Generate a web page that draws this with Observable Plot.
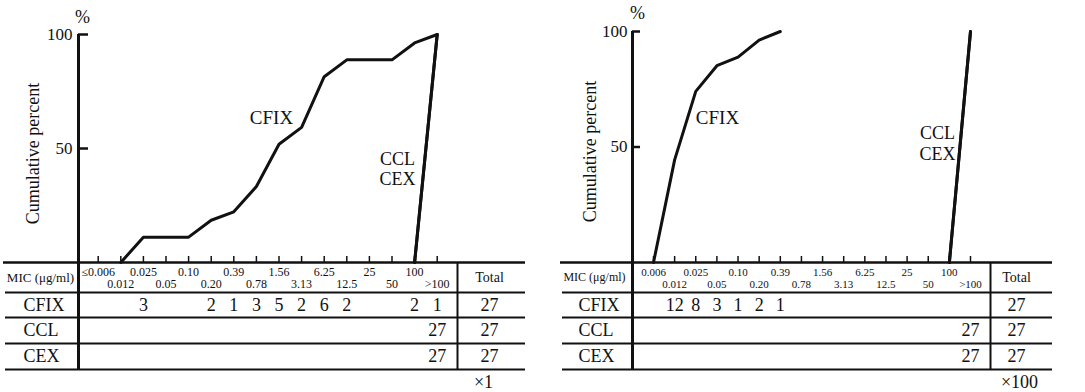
<!DOCTYPE html>
<html><head><meta charset="utf-8">
<script src="https://cdn.jsdelivr.net/npm/d3@7"></script>
<script src="https://cdn.jsdelivr.net/npm/@observablehq/plot@0.6"></script>
<style>
html,body{margin:0;padding:0;background:#fff;}
#wrap{position:relative;width:1085px;height:392px;overflow:hidden;background:#fff;}
#wrap svg{position:absolute;top:0;font-family:"Liberation Serif","Times New Roman",serif !important;}
#wrap svg text{font-family:"Liberation Serif","Times New Roman",serif !important;}
</style></head><body><div id="wrap"></div>
<script>
// ---- data ----
const micLeft = ["≤0.006","0.012","0.025","0.05","0.10","0.20","0.39","0.78","1.56","3.13","6.25","12.5","25","50","100",">100"];
const micRight = ["0.006","0.012","0.025","0.05","0.10","0.20","0.39","0.78","1.56","3.13","6.25","12.5","25","50","100",">100"];
const drugs = ["CFIX","CCL","CEX"];
const cfixLeft  = [0,0,3,0,0,2,1,3,5,2,6,2,0,0,2,1];
const cclLeft   = [0,0,0,0,0,0,0,0,0,0,0,0,0,0,0,27];
const cexLeft   = [0,0,0,0,0,0,0,0,0,0,0,0,0,0,0,27];
const cfixRight = [0,12,8,3,1,2,1,0,0,0,0,0,0,0,0,0];
const cclRight  = [0,0,0,0,0,0,0,0,0,0,0,0,0,0,0,27];
const cexRight  = [0,0,0,0,0,0,0,0,0,0,0,0,0,0,0,27];
const totalsLeft = [27,27,27];
const totalsRight = [27,27,27];
const yTicks = [50,100];
const notes = ["×1","×100"];

const FONT = "Liberation Serif";

function cumulative(counts, drug){
  const total = d3.sum(counts);
  const first = counts.findIndex(n => n > 0);
  const start = Math.max(first - 1, 0);
  let cum = 0; const pts = [];
  for (let i = 0; i < counts.length; i++){
    cum += counts[i];
    if (i >= start) pts.push({i, pct: cum / total * 100, drug});
    if (cum >= total) break;
  }
  return pts;
}

function panel(cfg){
  const L = cfg.L, ox = cfg.ox;
  const X = px => (px - L.x0) / (L.x15 - L.x0) * 15;
  const Y = py => (L.y0 - py) / (L.y0 - L.y100) * 100;
  const rowY = [305, 330, 356];
  const lines = cfg.series.flatMap((c, r) => cumulative(c, drugs[r]));
  const T = {fill: "#111", fontFamily: FONT};
  const marks = [];
  marks.push(Plot.ruleY([262], {y: d => Y(d), x1: () => X(L.tableL), x2: () => X(L.tableR), stroke: "#111", strokeWidth: 2.5}));
  marks.push(Plot.ruleY([292, 317, 343, 369], {y: d => Y(d), x1: () => X(L.tableL + 2), x2: () => X(L.tableR), stroke: "#111", strokeWidth: 2}));
  marks.push(Plot.ruleX([L.axisX], {x: d => X(d), y1: () => 100, y2: () => Y(369), stroke: "#111", strokeWidth: 3}));
  marks.push(Plot.ruleX([L.sepX], {x: d => X(d), y1: () => Y(262), y2: () => Y(369), stroke: "#111", strokeWidth: 2}));
  marks.push(Plot.ruleY(yTicks, {y: d => d, x1: () => X(L.axisX), x2: () => X(L.axisX + L.ytl), stroke: "#111", strokeWidth: 2.5}));
  marks.push(Plot.text(yTicks, {...T, x: () => X(L.yLabX), y: d => d, text: d => String(d), textAnchor: "end", fontSize: 17}));
  marks.push(Plot.text(["%"], {...T, x: () => X(L.pctX), y: () => Y(L.pctY), text: d => d, fontSize: 18}));
  marks.push(Plot.text(["Cumulative percent"], {...T, x: () => X(L.cumX), y: () => Y(L.cumY), text: d => d, rotate: -90, fontSize: 18}));
  marks.push(Plot.ruleX(d3.range(16), {x: d => d, y1: () => 0, y2: () => Y(256), stroke: "#111", strokeWidth: 1.5}));
  marks.push(Plot.text(cfg.mic, {...T, x: (d, i) => i, y: (d, i) => Y(i % 2 ? 284 : 272), text: d => d, fontSize: L.micFont}));
  marks.push(Plot.text(["MIC (μg/ml)"], {...T, x: () => X(L.micLabX), y: () => Y(277), text: d => d, fontSize: L.micLabFont}));
  marks.push(Plot.text(["Total"], {...T, x: () => X(L.totalX), y: () => Y(277), text: d => d, fontSize: 14}));
  marks.push(Plot.text(drugs, {...T, x: () => X(L.rowLabX), y: (d, i) => Y(rowY[i]), text: d => d, textAnchor: "start", fontSize: 18}));
  cfg.series.forEach((c, r) => {
    const cells = c.map((n, i) => ({i, n})).filter(d => d.n > 0);
    marks.push(Plot.text(cells, {...T, x: "i", y: () => Y(rowY[r]), text: d => String(d.n), fontSize: 18}));
  });
  marks.push(Plot.text(cfg.totals, {...T, x: () => X(L.totalX), y: (d, i) => Y(rowY[i]), text: d => String(d), fontSize: 18}));
  marks.push(Plot.text([cfg.note], {...T, x: () => X(L.noteX), y: () => Y(382), text: d => d, fontSize: 18}));
  marks.push(Plot.line(lines, {x: "i", y: "pct", z: "drug", stroke: "#111", strokeWidth: 3}));
  marks.push(Plot.text([{t:"CFIX", ...L.cfixLab}], {...T, x: d => X(d.x), y: d => Y(d.y), text: "t", fontSize: 19}));
  marks.push(Plot.text([{t:"CCL", x: L.cclLab.x, y: L.cclLab.y}, {t:"CEX", x: L.cclLab.x, y: L.cclLab.y + L.cclLab.dy}], {...T, x: d => X(d.x), y: d => Y(d.y), text: "t", fontSize: 18}));

  const svg = Plot.plot({
    width: cfg.width, height: 392,
    x: {type: "linear", domain: [0, 15], range: [L.x0 - ox, L.x15 - ox], axis: null},
    y: {type: "linear", domain: [0, 100], range: [L.y0, L.y100], axis: null},
    style: {background: "transparent", overflow: "visible"},
    marks
  });
  svg.style.left = ox + "px";
  svg.style.fontFamily = FONT;
  return svg;
}

const wrap = document.getElementById("wrap");
wrap.appendChild(panel({
  ox: 0, width: 540, mic: micLeft, series: [cfixLeft, cclLeft, cexLeft], totals: totalsLeft, note: notes[0],
  L: {x0: 97.7, x15: 436.7, y0: 262, y100: 34, axisX: 78, tableL: 3, sepX: 457, tableR: 525, ytl: 10,
      yLabX: 72, pctX: 82, pctY: 17, cumX: 33, cumY: 153, micFont: 12, micLabFont: 13, micLabX: 40,
      totalX: 489, rowLabX: 23, noteX: 483, cfixLab: {x: 271, y: 117}, cclLab: {x: 397, y: 159, dy: 20}}
}));
wrap.appendChild(panel({
  ox: 540, width: 545, mic: micRight, series: [cfixRight, cclRight, cexRight], totals: totalsRight, note: notes[1],
  L: {x0: 653, x15: 970, y0: 262, y100: 31, axisX: 632, tableL: 560, sepX: 990, tableR: 1052, ytl: 8,
      yLabX: 627, pctX: 637, pctY: 13, cumX: 590, cumY: 151, micFont: 11, micLabFont: 12, micLabX: 594,
      totalX: 1016, rowLabX: 578, noteX: 1019, cfixLab: {x: 717, y: 117}, cclLab: {x: 937, y: 133, dy: 21}}
}));
</script></body></html>
